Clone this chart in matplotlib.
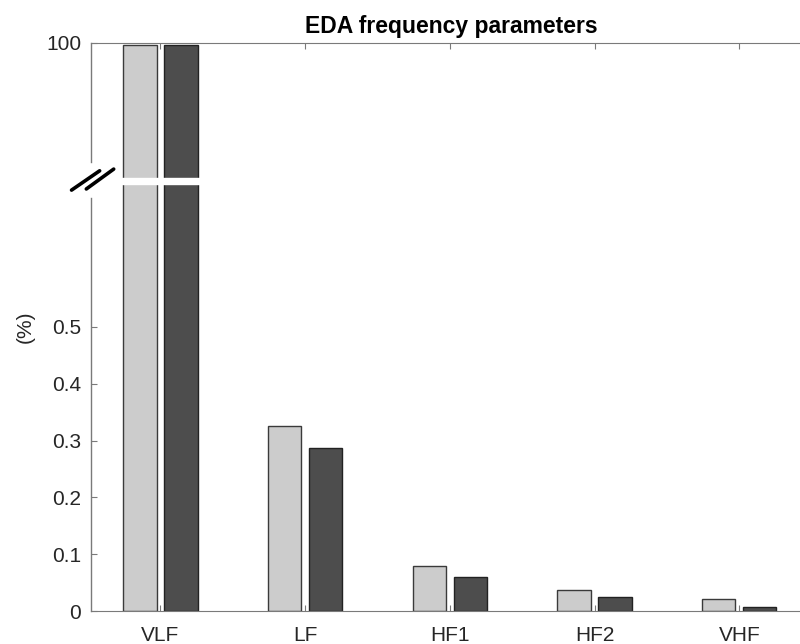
import numpy as np
import matplotlib.pyplot as plt

plt.rcParams['font.family'] = ['Liberation Sans', 'DejaVu Sans']

bands = ['VLF', 'LF', 'HF1', 'HF2', 'VHF']
group1 = [99.6, 0.326, 0.079, 0.0375, 0.0206]
group2 = [99.7, 0.287, 0.060, 0.0246, 0.0076]
yticks = [0, 0.1, 0.2, 0.3, 0.4, 0.5, 100]

# broken axis: low values shown as-is, the top segment squeezed so 100 sits at 1.0
def squeeze(v):
    v = np.asarray(v, dtype=float)
    return np.where(v < 0.6, v, 1.0 - (100 - v) * 0.01)

fig = plt.figure(figsize=(8, 6.44), dpi=100)
ax = fig.add_axes([0.11375, 0.05124, 0.9008, 0.882])

x = np.arange(1, len(bands) + 1)
w = 0.23
off = 0.142
ax.bar(x - off, squeeze(group1), w, color='#cccccc', edgecolor='#3a3a3a', linewidth=1.0)
ax.bar(x + off, squeeze(group2), w, color='#4d4d4d', edgecolor='#222222', linewidth=1.0)

ax.set_xlim(0.52, 5.5)
ax.set_ylim(0, 1.0)
ax.set_xticks(x)
ax.set_xticklabels(bands)
ax.set_yticks(squeeze(yticks))
ax.set_yticklabels(['0', '0.1', '0.2', '0.3', '0.4', '0.5', '100'])

# gap across the bars where the axis is broken
ax.axhspan(0.751, 0.762, color='white', zorder=3)

axis_col = '#7a7a7a'
for s in ['top', 'right', 'bottom']:
    ax.spines[s].set_color(axis_col)
ax.spines['left'].set_visible(False)
yt = ax.get_yaxis_transform()
ax.plot([0, 0], [0, 0.727], color=axis_col, lw=1.0, transform=yt, clip_on=False, zorder=4)
ax.plot([0, 0], [0.790, 1.0], color=axis_col, lw=1.0, transform=yt, clip_on=False, zorder=4)

# the // break marks
ax.plot([-0.027, 0.012], [0.741, 0.775], color='black', lw=2.6,
        transform=ax.transAxes, clip_on=False, zorder=5, solid_capstyle='round')
ax.plot([-0.0065, 0.0315], [0.743, 0.778], color='black', lw=2.6,
        transform=ax.transAxes, clip_on=False, zorder=5, solid_capstyle='round')

ax.tick_params(axis='y', direction='in', length=4.5, color=axis_col,
               labelsize=15, labelcolor='#262626', pad=7)
ax.tick_params(axis='x', direction='in', length=4.5, color=axis_col, top=True,
               labelsize=15, labelcolor='#262626', pad=11)

ax.set_ylabel('(%)', fontsize=15, color='#262626')
ax.yaxis.set_label_coords(-0.078, 0.5)
ax.set_title('EDA frequency parameters', fontsize=16.5, fontweight='bold', pad=7)

fig.savefig('out.png', dpi=100)
